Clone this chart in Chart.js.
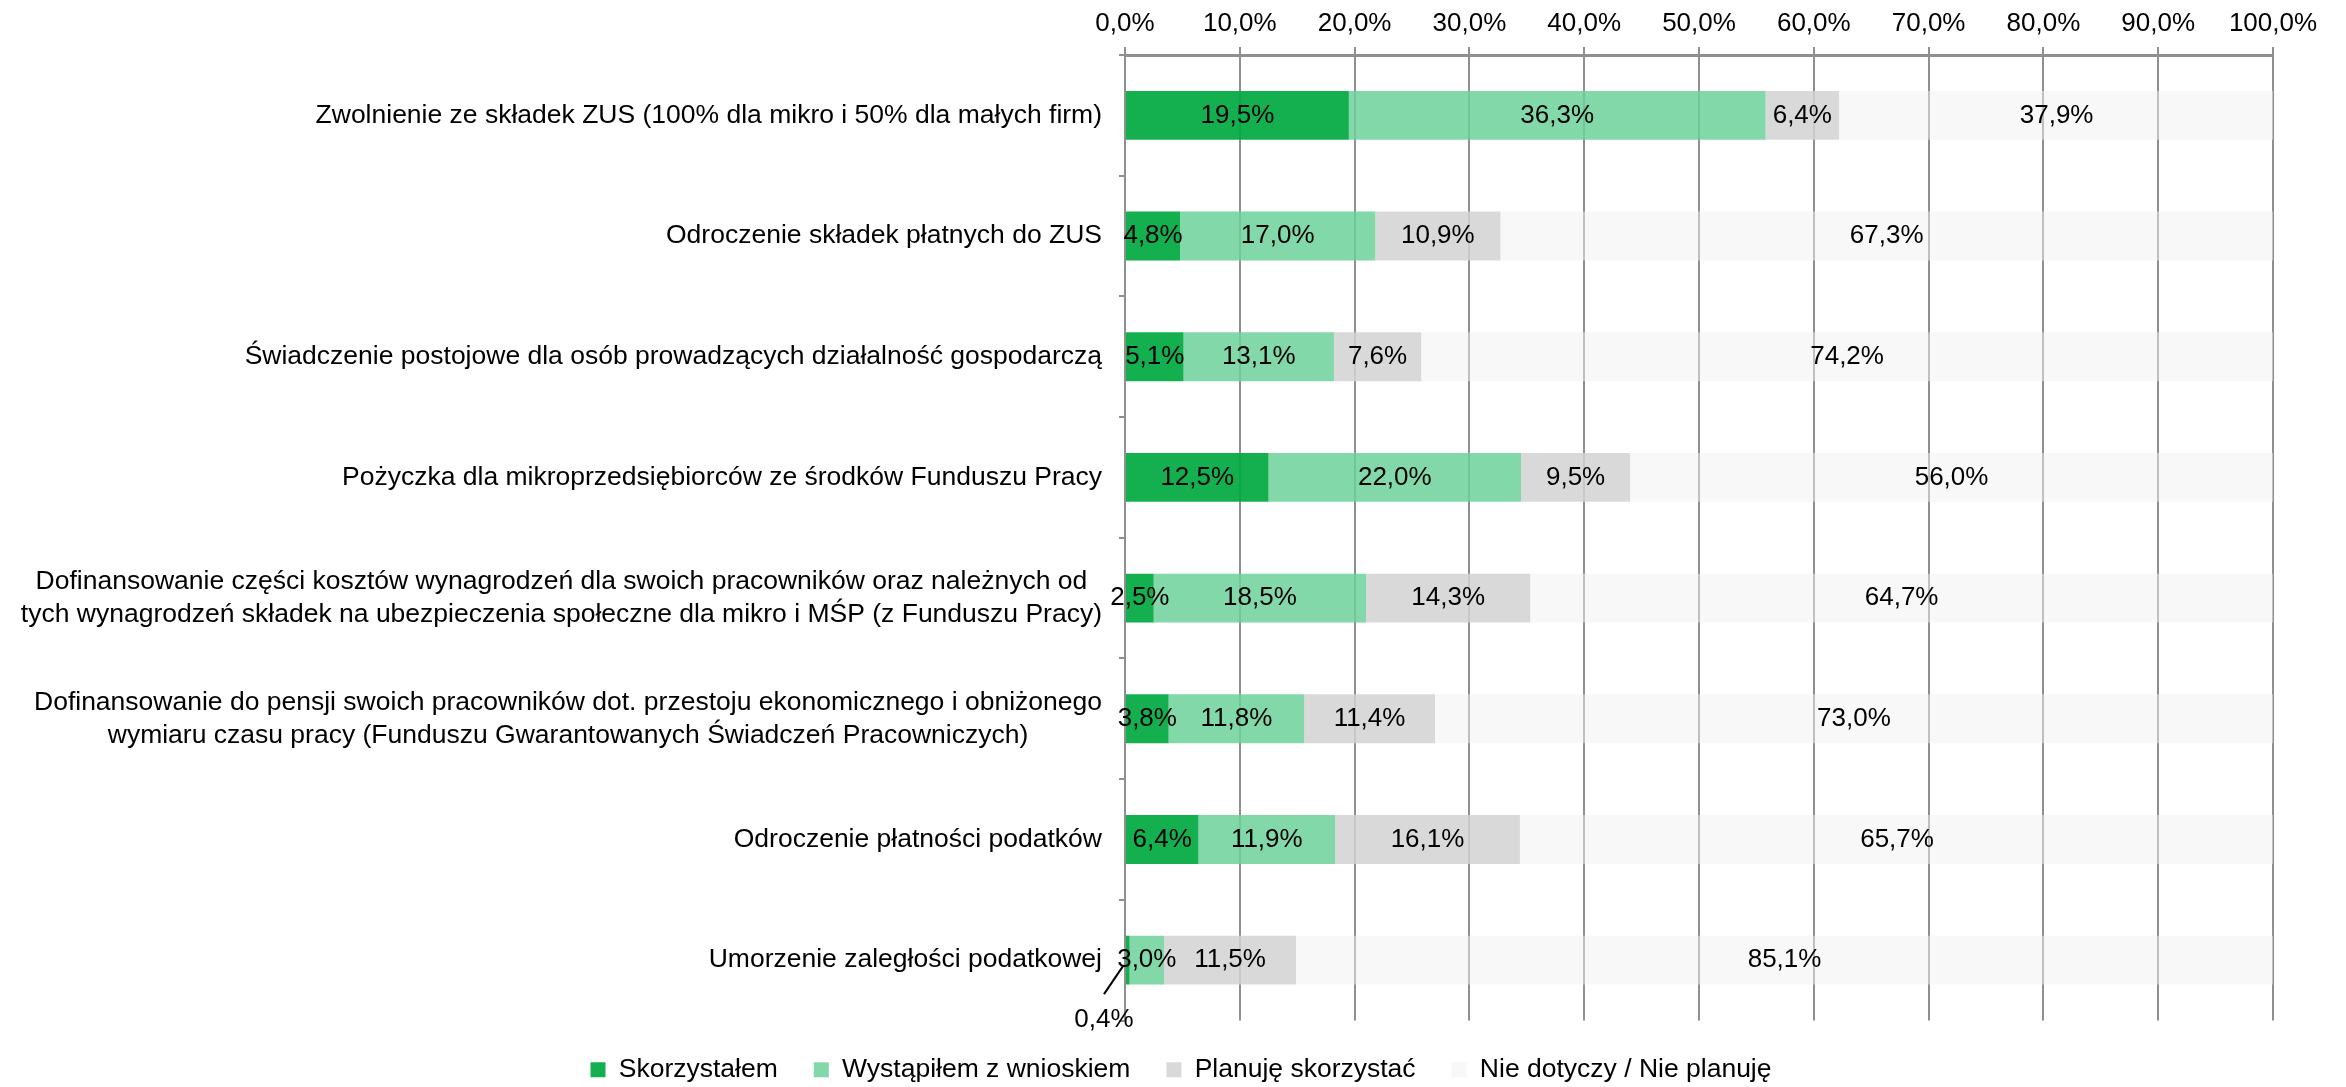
<!DOCTYPE html>
<html>
<head>
<meta charset="utf-8">
<script src="https://cdn.jsdelivr.net/npm/chart.js@4.4.0/dist/chart.umd.min.js"></script>
<style>
  html, body { margin: 0; padding: 0; background: #fff; }
  #wrap { width: 2346px; height: 1087px; }
</style>
</head>
<body>
<div id="wrap"><canvas id="chart"></canvas></div>
<script>
const categories = [
  'Zwolnienie ze składek ZUS (100% dla mikro i 50% dla małych firm)',
  'Odroczenie składek płatnych do ZUS',
  'Świadczenie postojowe dla osób prowadzących działalność gospodarczą',
  'Pożyczka dla mikroprzedsiębiorców ze środków Funduszu Pracy',
  ['Dofinansowanie części kosztów wynagrodzeń dla swoich pracowników oraz należnych od',
   'tych wynagrodzeń składek na ubezpieczenia społeczne dla mikro i MŚP (z Funduszu Pracy)'],
  ['Dofinansowanie do pensji swoich pracowników dot. przestoju ekonomicznego i obniżonego',
   'wymiaru czasu pracy (Funduszu Gwarantowanych Świadczeń Pracowniczych)'],
  'Odroczenie płatności podatków',
  'Umorzenie zaległości podatkowej'
];

const skorzystalem = [19.5, 4.8, 5.1, 12.5, 2.5, 3.8, 6.4, 0.4];
const wystapilem   = [36.3, 17.0, 13.1, 22.0, 18.5, 11.8, 11.9, 3.0];
const planuje      = [6.4, 10.9, 7.6, 9.5, 14.3, 11.4, 16.1, 11.5];
const nieDotyczy   = [37.9, 67.3, 74.2, 56.0, 64.7, 73.0, 65.7, 85.1];

const seriesNames = ['Skorzystałem', 'Wystąpiłem z wnioskiem', 'Planuję skorzystać', 'Nie dotyczy / Nie planuję'];
const xTicks = [0, 10, 20, 30, 40, 50, 60, 70, 80, 90, 100];

const FONT = '"Liberation Sans", Arial, sans-serif';
const GRID = '#8f8f8f';
const fmt = v => v.toFixed(1).replace('.', ',') + '%';

// value labels in the middle of each segment, tiny ones go under the bar with a leader line
const valueLabels = {
  id: 'valueLabels',
  afterDatasetsDraw(chart) {
    const ctx = chart.ctx;
    const x0 = chart.scales.x.getPixelForValue(0);
    ctx.save();
    ctx.font = '26px ' + FONT;
    ctx.fillStyle = '#000';
    ctx.textAlign = 'center';
    ctx.textBaseline = 'middle';
    chart.data.datasets.forEach((ds, i) => {
      chart.getDatasetMeta(i).data.forEach((bar, j) => {
        const v = ds.data[j];
        const cx = (bar.x + bar.base) / 2;
        if (v < 1) {
          ctx.strokeStyle = '#000';
          ctx.lineWidth = 2;
          ctx.beginPath();
          ctx.moveTo(x0 - 21, bar.y + 34);
          ctx.lineTo(x0 - 2, bar.y + 6);
          ctx.stroke();
          ctx.fillText(fmt(v), x0 - 21, bar.y + 60);
        } else {
          ctx.fillText(fmt(v), cx, bar.y);
        }
      });
    });
    ctx.restore();
  }
};

// category names: block right aligned to the axis, lines centred inside the block
const categoryLabels = {
  id: 'categoryLabels',
  afterDraw(chart) {
    const ctx = chart.ctx;
    const yScale = chart.scales.y;
    const right = yScale.right - 23;
    ctx.save();
    ctx.font = '26.5px ' + FONT;
    ctx.fillStyle = '#000';
    ctx.textAlign = 'center';
    ctx.textBaseline = 'middle';
    categories.forEach((lab, i) => {
      const lines = Array.isArray(lab) ? lab : [lab];
      const w = Math.max(...lines.map(l => ctx.measureText(l).width));
      const cy = yScale.getPixelForValue(i);
      lines.forEach((l, k) => {
        ctx.fillText(l, right - w / 2, cy + (k - (lines.length - 1) / 2) * 33);
      });
    });
    ctx.restore();
  }
};

// legend sits a bit right of the plot centre in the original
const legendShift = {
  id: 'legendShift',
  afterLayout(chart) {
    chart.legend.right += 89;
    chart.legend.width += 89;
  }
};

const colors = [
  'rgba(0,169,65,0.92)',
  'rgba(108,209,153,0.85)',
  'rgba(210,210,210,0.85)',
  'rgba(241,241,241,0.5)'
];
const values = [skorzystalem, wystapilem, planuje, nieDotyczy];

new Chart(document.getElementById('chart'), {
  type: 'bar',
  data: {
    labels: categories.map(c => Array.isArray(c) ? c.join(' ') : c),
    datasets: values.map((d, i) => ({
      label: seriesNames[i],
      data: d,
      backgroundColor: colors[i],
      borderWidth: 0,
      barPercentage: 0.5,
      categoryPercentage: 0.81
    }))
  },
  options: {
    indexAxis: 'y',
    responsive: true,
    maintainAspectRatio: false,
    animation: false,
    layout: { padding: { left: 0, right: 73, top: 0, bottom: -6 } },
    scales: {
      x: {
        position: 'top',
        stacked: true,
        min: 0,
        max: 100,
        afterBuildTicks: s => { s.ticks = xTicks.map(v => ({ value: v })); },
        afterFit: s => { s.height = 55; },
        ticks: {
          callback: v => fmt(v),
          color: '#000',
          font: { size: 26, family: FONT },
          padding: 8,
          maxRotation: 0
        },
        grid: { color: GRID, lineWidth: 2, tickLength: 8 },
        border: { color: GRID, width: 3 }
      },
      y: {
        stacked: true,
        afterFit: s => { s.width = 1125; },
        ticks: { display: false },
        grid: { drawOnChartArea: false, color: GRID, lineWidth: 2, tickLength: 6 },
        border: { color: GRID, width: 2 }
      }
    },
    plugins: {
      legend: {
        position: 'bottom',
        labels: {
          color: '#000',
          font: { size: 26.5, family: FONT },
          boxWidth: 15,
          boxHeight: 15,
          padding: 36
        }
      },
      tooltip: { enabled: false }
    }
  },
  plugins: [valueLabels, categoryLabels, legendShift]
});
</script>
</body>
</html>
